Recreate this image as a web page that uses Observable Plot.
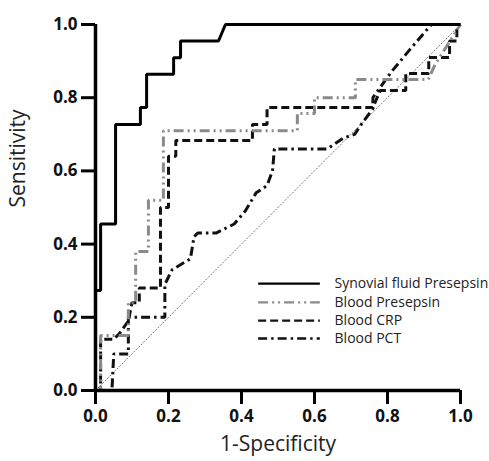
<!DOCTYPE html>
<html>
<head>
<meta charset="utf-8">
<script src="https://cdn.jsdelivr.net/npm/d3@7"></script>
<script src="https://cdn.jsdelivr.net/npm/@observablehq/plot@0.6"></script>
<style>
  html, body { margin: 0; padding: 0; background: #fff; }
  #chart svg { display: block; }
</style>
</head>
<body>
<div id="chart"></div>
<script>
// ---- Data ----
const ticks = [0, 0.2, 0.4, 0.6, 0.8, 1.0];

const synFpr = [0, 0, 0.014, 0.014, 0.055, 0.055, 0.123, 0.123, 0.14, 0.14, 0.214, 0.214, 0.233, 0.233, 0.337, 0.356, 1];
const synTpr = [0, 0.273, 0.273, 0.455, 0.455, 0.727, 0.727, 0.773, 0.773, 0.864, 0.864, 0.909, 0.909, 0.955, 0.955, 1, 1];

const bpFpr = [0, 0.014, 0.014, 0.09, 0.09, 0.11, 0.11, 0.145, 0.145, 0.186, 0.186, 0.553, 0.553, 0.6, 0.6, 0.712, 0.712, 0.912, 0.93, 1];
const bpTpr = [0, 0, 0.15, 0.15, 0.24, 0.24, 0.38, 0.38, 0.52, 0.52, 0.71, 0.71, 0.757, 0.757, 0.8, 0.8, 0.85, 0.85, 0.89, 1];

const crpFpr = [0, 0.014, 0.014, 0.05, 0.065, 0.09, 0.1, 0.12, 0.12, 0.178, 0.178, 0.2, 0.2, 0.22, 0.22, 0.43, 0.43, 0.47, 0.47, 0.76, 0.78, 0.85, 0.85, 0.913, 0.913, 0.97, 0.97, 0.99, 0.99, 1];
const crpTpr = [0, 0, 0.14, 0.14, 0.155, 0.19, 0.24, 0.24, 0.28, 0.28, 0.5, 0.5, 0.64, 0.64, 0.683, 0.683, 0.727, 0.727, 0.773, 0.773, 0.82, 0.82, 0.866, 0.866, 0.91, 0.91, 0.955, 0.955, 1, 1];

const pctFpr = [0, 0.045, 0.05, 0.09, 0.09, 0.19, 0.19, 0.21, 0.26, 0.27, 0.28, 0.33, 0.38, 0.41, 0.44, 0.47, 0.485, 0.49, 0.635, 0.68, 0.71, 0.73, 0.76, 0.76, 0.81, 0.86, 0.92, 1];
const pctTpr = [0, 0, 0.1, 0.1, 0.2, 0.2, 0.29, 0.33, 0.36, 0.42, 0.43, 0.43, 0.455, 0.49, 0.54, 0.56, 0.6, 0.66, 0.66, 0.69, 0.70, 0.73, 0.77, 0.8, 0.87, 0.93, 1, 1];

const seriesNames = ["Synovial fluid Presepsin", "Blood Presepsin", "Blood CRP", "Blood PCT"];

// ---- Styles ----
const styles = [
  {stroke: "#000", dash: null, width: 3, lw: 2.4},
  {stroke: "#8a8a8a", dash: "10,4,2,4,2,4", width: 3, lw: 2.2},
  {stroke: "#111", dash: "8,4", width: 3, lw: 2.4},
  {stroke: "#111", dash: "9,4,2.5,4", width: 3, lw: 2.4}
];

const toPts = (xs, ys) => xs.map((x, i) => ({x, y: ys[i]}));
const curves = [toPts(synFpr, synTpr), toPts(bpFpr, bpTpr), toPts(crpFpr, crpTpr), toPts(pctFpr, pctTpr)];

const legendY = [0.292, 0.241, 0.191, 0.142];

const marks = [];
// diagonal reference
marks.push(Plot.line([{x: 0, y: 0}, {x: 1, y: 1}], {x: "x", y: "y", stroke: "#777", strokeWidth: 1, strokeDasharray: "1.2,2.2"}));
// curves (draw in reverse so solid line is on top)
for (let i = curves.length - 1; i >= 0; --i) {
  const s = styles[i];
  marks.push(Plot.line(curves[i], {x: "x", y: "y", stroke: s.stroke, strokeWidth: s.width, strokeDasharray: s.dash, strokeLinecap: "butt", strokeLinejoin: "miter"}));
}
// legend
seriesNames.forEach((name, i) => {
  const s = styles[i];
  marks.push(Plot.ruleY([legendY[i]], {x1: 0.447, x2: 0.616, stroke: s.stroke, strokeWidth: s.lw, strokeDasharray: s.dash}));
  marks.push(Plot.text([name], {x: 0.655, y: legendY[i], text: d => d, textAnchor: "start", fontSize: 14, fontWeight: "normal", fill: "#222"}));
});
// axes
marks.push(Plot.axisX({ticks, tickFormat: d3.format(".1f"), tickSize: 14, tickPadding: 5, strokeWidth: 3, label: null, fontSize: 17, fontWeight: "bold", fill: "#111"}));
marks.push(Plot.axisY({ticks, tickFormat: d3.format(".1f"), tickSize: 14, tickPadding: 4, strokeWidth: 3, label: null, fontSize: 17, fontWeight: "bold", fill: "#111"}));
marks.push(Plot.ruleX([0], {y1: 0, y2: 1, stroke: "#000", strokeWidth: 3.5}));
marks.push(Plot.ruleY([0], {x1: 0, x2: 1, stroke: "#000", strokeWidth: 3.5}));
// axis titles
marks.push(Plot.text(["1-Specificity"], {frameAnchor: "bottom", lineAnchor: "middle", dy: 54, fontSize: 21, fontWeight: "normal", fill: "#222"}));
marks.push(Plot.text(["Sensitivity"], {frameAnchor: "left", lineAnchor: "middle", rotate: -90, dx: -77, fontSize: 21, fontWeight: "normal", fill: "#222"}));

const chart = Plot.plot({
  width: 489,
  height: 461,
  marginLeft: 95,
  marginRight: 29,
  marginTop: 24,
  marginBottom: 71,
  x: {domain: [0, 1]},
  y: {domain: [0, 1]},
  style: {fontFamily: "'Open Sans', 'Noto Sans', sans-serif", background: "#fff", overflow: "visible"},
  marks
});
document.getElementById("chart").appendChild(chart);
</script>
</body>
</html>
